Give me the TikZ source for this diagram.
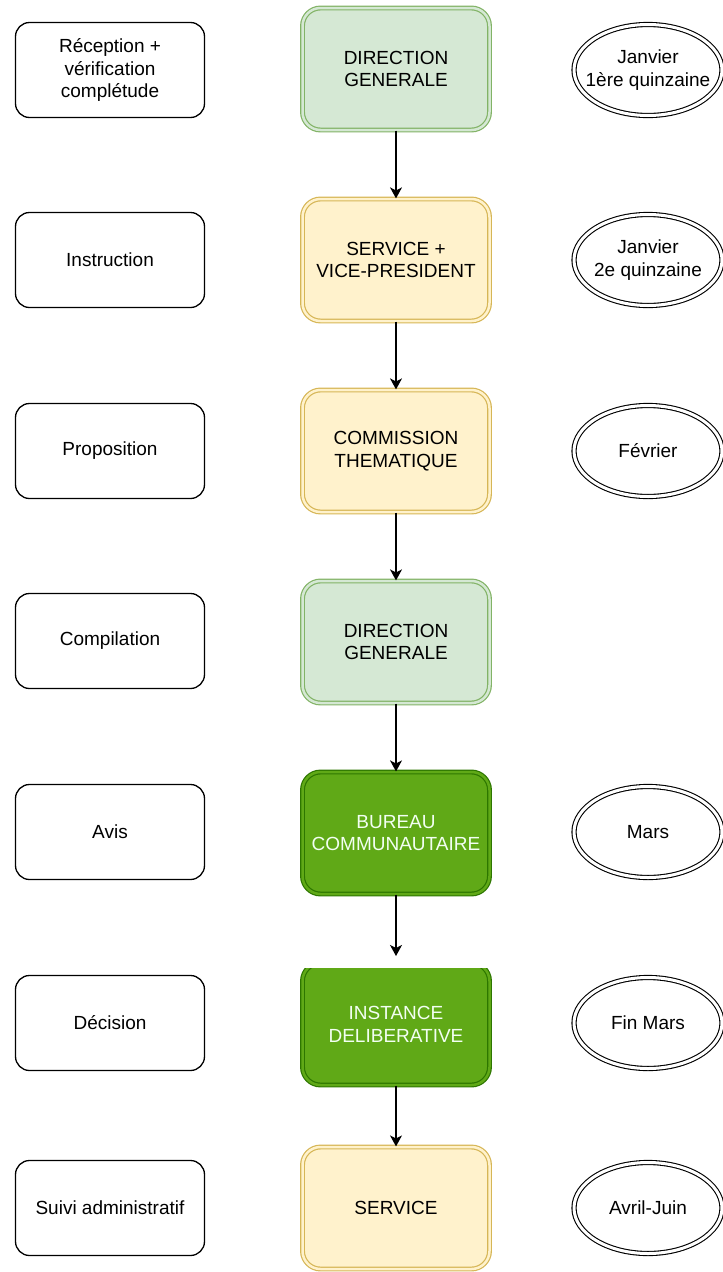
\documentclass[tikz,border=0pt]{standalone}
\usepackage{fontspec}
\setmainfont{Liberation Sans}
\usetikzlibrary{arrows.meta,shapes.geometric}
\definecolor{lgfill}{HTML}{D5E8D4}
\definecolor{lgline}{HTML}{82B366}
\definecolor{yfill}{HTML}{FFF2CC}
\definecolor{yline}{HTML}{D6B656}
\definecolor{dgfill}{HTML}{60A917}
\definecolor{dgline}{HTML}{2D7600}
\tikzset{
  every node/.style={font=\fontsize{19}{22.8}\selectfont, align=center, inner sep=0pt},
  leftbox/.style={draw=black, line width=1.3pt, rounded corners=14pt, minimum width=189pt, minimum height=95pt},
  centerbox/.style={rounded corners=18pt, line width=1.2pt, double distance=2.5pt, minimum width=187pt, minimum height=122pt},
  lgbox/.style={centerbox, draw=lgline, double=lgfill, fill=lgfill},
  ybox/.style={centerbox, draw=yline, double=yfill, fill=yfill},
  dgbox/.style={centerbox, draw=dgline, double=dgfill, fill=dgfill, text=white!95!green},
  dateell/.style={ellipse, draw=black, line width=1.1pt, double=white, double distance=3pt, minimum width=148pt, minimum height=91pt, inner xsep=-32pt, inner ysep=-12pt},
  flow/.style={-{Stealth[length=11pt,width=12pt,inset=3pt]}, line width=1.2pt}
}
\begin{document}
\begin{tikzpicture}[x=1pt,y=-1pt]
\useasboundingbox (0,0) rectangle (723,1272);
% left boxes
\node[leftbox] (l1) at (110,70) {Réception +\\vérification\\complétude};
\node[leftbox] (l2) at (110,260) {Instruction};
\node[leftbox] (l3) at (110,451) {Proposition};
\node[leftbox] (l4) at (110,641) {Compilation};
\node[leftbox] (l5) at (110,832) {Avis};
\node[leftbox] (l6) at (110,1023) {Décision};
\node[leftbox] (l7) at (110,1208) {Suivi administratif};
% center boxes
\node[lgbox] (c1) at (396,69) {DIRECTION\\GENERALE};
\node[ybox] (c2) at (396,260) {SERVICE +\\VICE-PRESIDENT};
\node[ybox] (c3) at (396,451) {COMMISSION\\THEMATIQUE};
\node[lgbox] (c4) at (396,642) {DIRECTION\\GENERALE};
\node[dgbox] (c5) at (396,833) {BUREAU\\COMMUNAUTAIRE};
\begin{scope}
\clip (250,968) rectangle (550,1140);
\node[dgbox] (c6) at (396,1024) {INSTANCE\\DELIBERATIVE};
\end{scope}
\node[ybox] (c7) at (396,1208) {SERVICE};
% ellipses
\node[dateell] (e1) at (648,70) {Janvier\\1ère quinzaine};
\node[dateell] (e2) at (648,260) {Janvier\\2e quinzaine};
\node[dateell] (e3) at (648,451) {Février};
\node[dateell] (e5) at (648,832) {Mars};
\node[dateell] (e6) at (648,1023) {Fin Mars};
\node[dateell] (e7) at (648,1208) {Avril-Juin};
% arrows
\coordinate (a6) at (396,956);
\draw[flow] (c1.south) -- (c2.north);
\draw[flow] (c2.south) -- (c3.north);
\draw[flow] (c3.south) -- (c4.north);
\draw[flow] (c4.south) -- (c5.north);
\draw[flow] (c5.south) -- (a6);
\draw[flow] (c6.south) -- (c7.north);
\end{tikzpicture}
\end{document}
